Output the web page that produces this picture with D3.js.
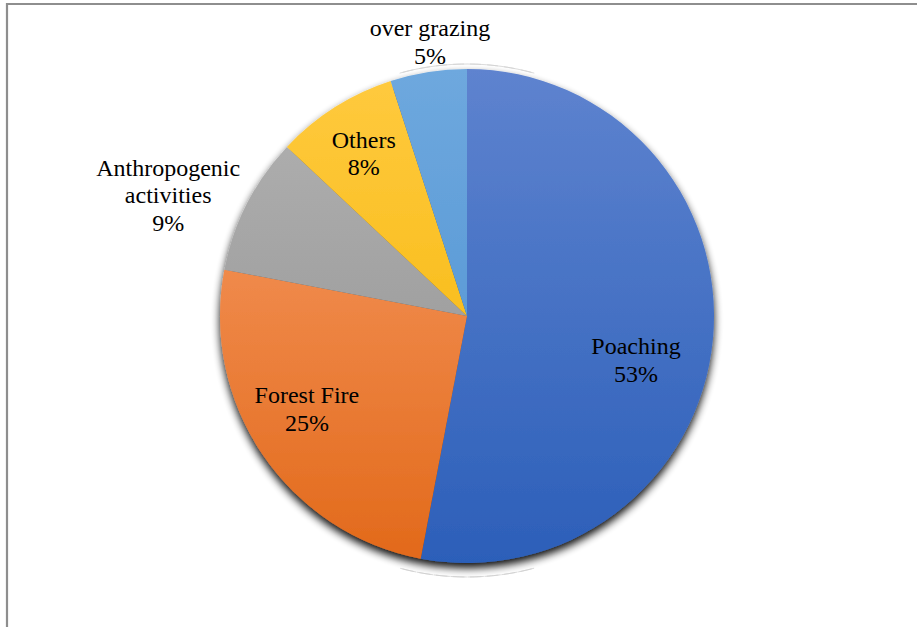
<!DOCTYPE html>
<html>
<head>
<meta charset="utf-8">
<script src="https://cdn.jsdelivr.net/npm/d3@7"></script>
<style>
  html, body { margin: 0; padding: 0; background: #fff; }
  svg { display: block; }
  text { font-family: "Liberation Serif", "Times New Roman", serif; fill: #000; }
</style>
</head>
<body>
<svg id="chart" width="917" height="627"></svg>
<script>
// Causes of wildlife loss, share of cases (%)
const categories = ["Poaching", "Forest Fire", "Anthropogenic activities", "Others", "over grazing"];
const values = [53, 25, 9, 8, 5];
const labelLines = [["Poaching"], ["Forest Fire"], ["Anthropogenic", "activities"], ["Others"], ["over grazing"]];

// Gradient fill per slice: top colour, bottom colour
const topColors = ["#5E83CF", "#F9A06C", "#B2B2B2", "#FFCA3F", "#6EA8DE"];
const bottomColors = ["#2C5FB9", "#E2691A", "#8F8F8F", "#F3B300", "#4A8FD0"];

// Label placement around each slice: radius factor and angular nudge (degrees)
const labelPlacement = [
  { f: 0.707, da: 9.2 },
  { f: 0.75, da: 4.0 },
  { f: 1.305, da: -5.0 },
  { f: 0.78, da: 0.0 },
  { f: 1.12, da: 1.3 }
];

const W = 917, H = 627;
const cx = 467, cy = 316, R = 247;
const fontSize = 24, lineH = 27.8;

const svg = d3.select("#chart");
const defs = svg.append("defs");

// Frame lines along the top and left
svg.append("line").attr("x1", 7).attr("y1", 4).attr("x2", W).attr("y2", 4)
  .attr("stroke", "#8e8e8e").attr("stroke-width", 2.2);
svg.append("line").attr("x1", 7).attr("y1", 3).attr("x2", 7).attr("y2", H)
  .attr("stroke", "#8e8e8e").attr("stroke-width", 2.2);

// Soft drop shadow under the pie
const shadow = defs.append("filter").attr("id", "pieShadow")
  .attr("filterUnits", "userSpaceOnUse")
  .attr("x", -R - 30).attr("y", -R - 30).attr("width", 2 * R + 60).attr("height", 2 * R + 70);
shadow.append("feGaussianBlur").attr("in", "SourceAlpha").attr("stdDeviation", 4).attr("result", "blur");
shadow.append("feOffset").attr("in", "blur").attr("dx", 0).attr("dy", 5).attr("result", "off");
shadow.append("feComponentTransfer").attr("in", "off").attr("result", "shade")
  .append("feFuncA").attr("type", "linear").attr("slope", 0.95);
const merge = shadow.append("feMerge");
merge.append("feMergeNode").attr("in", "shade");
merge.append("feMergeNode").attr("in", "SourceGraphic");

categories.forEach((c, i) => {
  const g = defs.append("linearGradient").attr("id", "grad" + i)
    .attr("gradientUnits", "userSpaceOnUse")
    .attr("x1", 0).attr("y1", -R).attr("x2", 0).attr("y2", R);
  g.append("stop").attr("offset", "0%").attr("stop-color", topColors[i]);
  g.append("stop").attr("offset", "100%").attr("stop-color", bottomColors[i]);
});

const pie = d3.pie().sort(null).value(d => d.value).startAngle(0).endAngle(2 * Math.PI);
const data = categories.map((c, i) => ({ name: c, value: values[i], idx: i }));
const arcs = pie(data);
const arc = d3.arc().innerRadius(0).outerRadius(R);

const root = svg.append("g").attr("transform", `translate(${cx},${cy})`);

// Faint outer rim traces above and below the pie
const rim = d3.arc();
root.append("path")
  .attr("d", rim({ innerRadius: R + 5, outerRadius: R + 5, startAngle: -0.27, endAngle: 0.27 }))
  .attr("fill", "none").attr("stroke", "#d2d2d2").attr("stroke-width", 0.8)
  .attr("stroke-dasharray", "14 3");
root.append("path")
  .attr("d", rim({ innerRadius: R + 14, outerRadius: R + 14, startAngle: Math.PI - 0.26, endAngle: Math.PI + 0.26 }))
  .attr("fill", "none").attr("stroke", "#d2d2d2").attr("stroke-width", 0.8)
  .attr("stroke-dasharray", "14 3");

const slices = root.append("g").attr("filter", "url(#pieShadow)");
slices.selectAll("path").data(arcs).join("path")
  .attr("d", arc)
  .attr("fill", d => `url(#grad${d.data.idx})`);

// Data labels: category name lines followed by the percentage
const labels = root.append("g");
arcs.forEach(d => {
  const p = labelPlacement[d.data.idx];
  const a = (d.startAngle + d.endAngle) / 2 + p.da * Math.PI / 180;
  const r = R * p.f;
  const x = Math.sin(a) * r, y = -Math.cos(a) * r;
  const lines = labelLines[d.data.idx].concat([d.data.value + "%"]);
  const first = y - (lines.length - 1) * lineH / 2 + fontSize * 0.34;
  const t = labels.append("text")
    .attr("text-anchor", "middle")
    .attr("font-size", fontSize);
  lines.forEach((ln, k) => {
    t.append("tspan").attr("x", x).attr("y", first + k * lineH).text(ln);
  });
});
</script>
</body>
</html>
